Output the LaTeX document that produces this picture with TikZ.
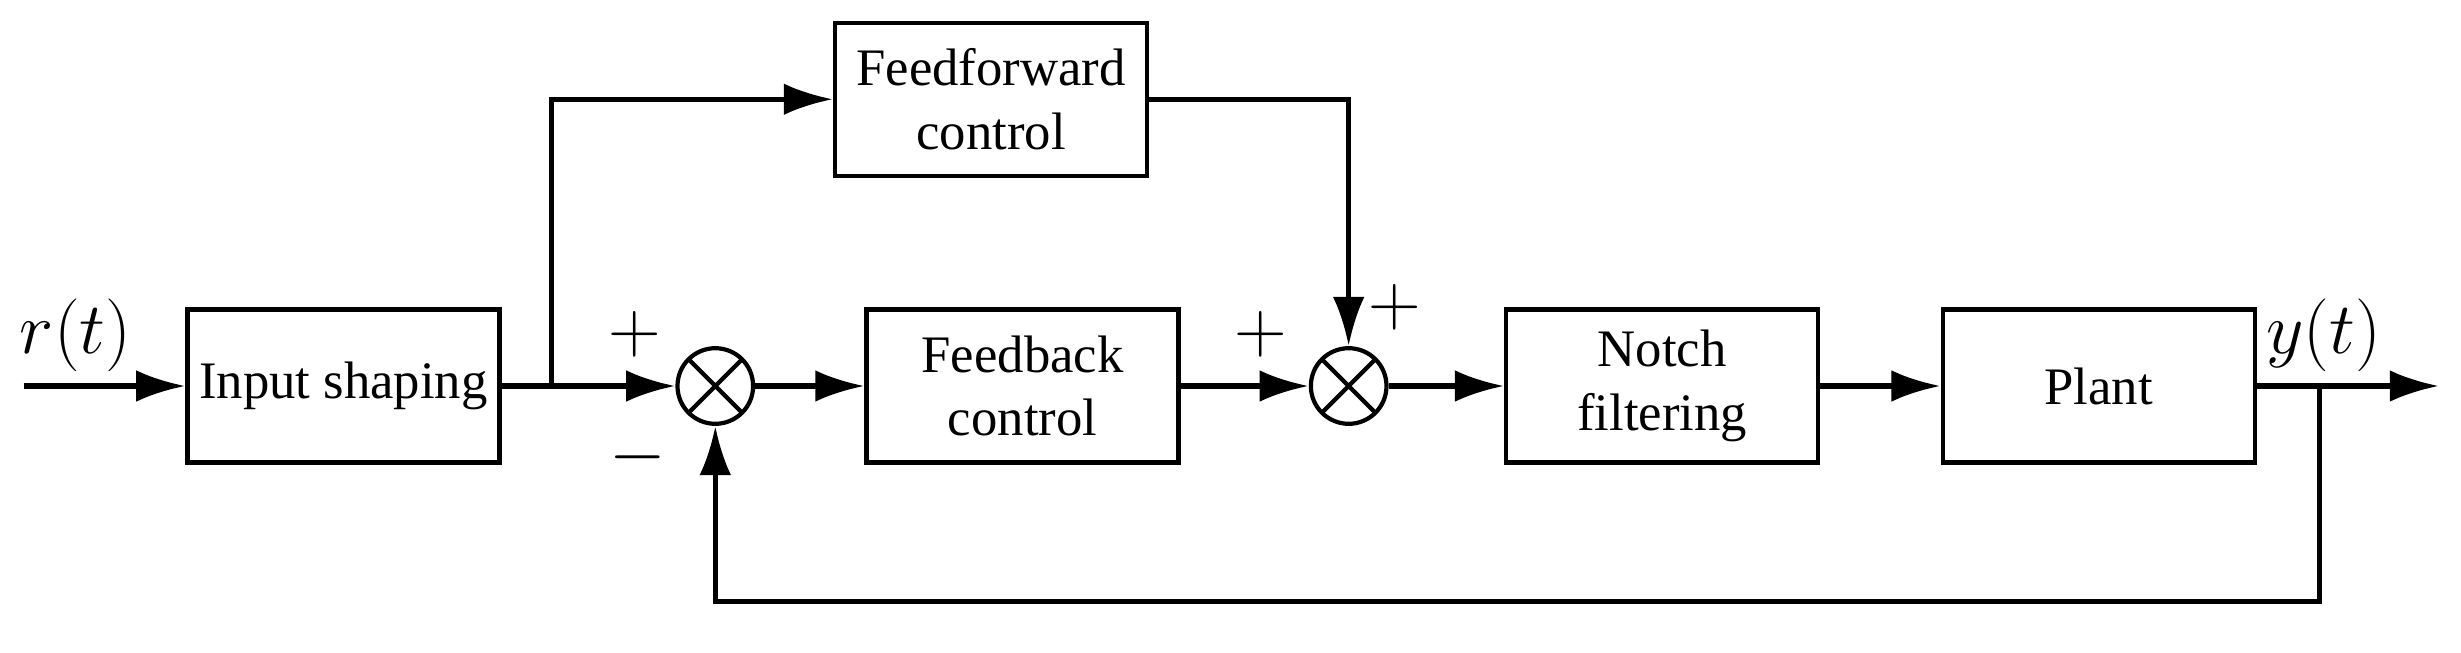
\documentclass[tikz,border=0pt]{standalone}
\usepackage{fontspec}
\setmainfont{Liberation Serif}
\usetikzlibrary{arrows.meta}
\begin{document}
\begin{tikzpicture}[x=0.01576cm,y=-0.01576cm,
  blk/.style={draw,line width=1.2pt,inner sep=0pt,minimum width=198*0.01576cm,minimum height=97*0.01576cm,align=center,font=\fontsize{15}{18}\selectfont},
  sum/.style={draw,circle,line width=1.2pt,minimum size=48*0.01576cm,inner sep=0pt,path picture={\draw[line width=1.2pt] (path picture bounding box.north west)--(path picture bounding box.south east) (path picture bounding box.north east)--(path picture bounding box.south west);}},
  sig/.style={line width=1.5pt,-{Latex[length=14pt,width=9pt]}},
  ln/.style={line width=1.5pt},
  lbl/.style={font=\fontsize{20}{22}\selectfont}]
\useasboundingbox (0,0) rectangle (1562,414);
\node[blk] (in) at (218,245) {Input shaping};
\node[blk] (ff) at (629,63) {Feedforward\\control};
\node[sum] (s1) at (454,245) {};
\node[blk] (fb) at (649,245) {Feedback\\control};
\node[sum] (s2) at (856,245) {};
\node[blk] (nf) at (1055,245) {Notch\\filtering};
\node[blk] (pl) at (1332,245) {Plant};
\coordinate (r) at (15,245);
\coordinate (b1) at (350,245);
\coordinate (b2) at (1472,245);
\coordinate (out) at (1548,245);
\draw[sig] (r) -- (in);
\draw[ln] (in) -- (b1);
\draw[sig] (b1) -- (s1);
\draw[sig] (b1) |- (ff);
\draw[sig] (ff.east) -| (s2);
\draw[sig] (s1) -- (fb);
\draw[sig] (fb) -- (s2);
\draw[sig] (s2) -- (nf);
\draw[sig] (nf) -- (pl);
\draw[sig] (pl) -- (out);
\draw[sig] (b2) -- (1472,382) -| (s1);
\node[lbl] at (48,213) {$r(t)$};
\node[lbl] at (1475,213) {$y(t)$};
\node[lbl] at (403,212) {$+$};
\node[lbl] at (405,290) {$-$};
\node[lbl] at (800,212) {$+$};
\node[lbl] at (885,195) {$+$};
\end{tikzpicture}
\end{document}
